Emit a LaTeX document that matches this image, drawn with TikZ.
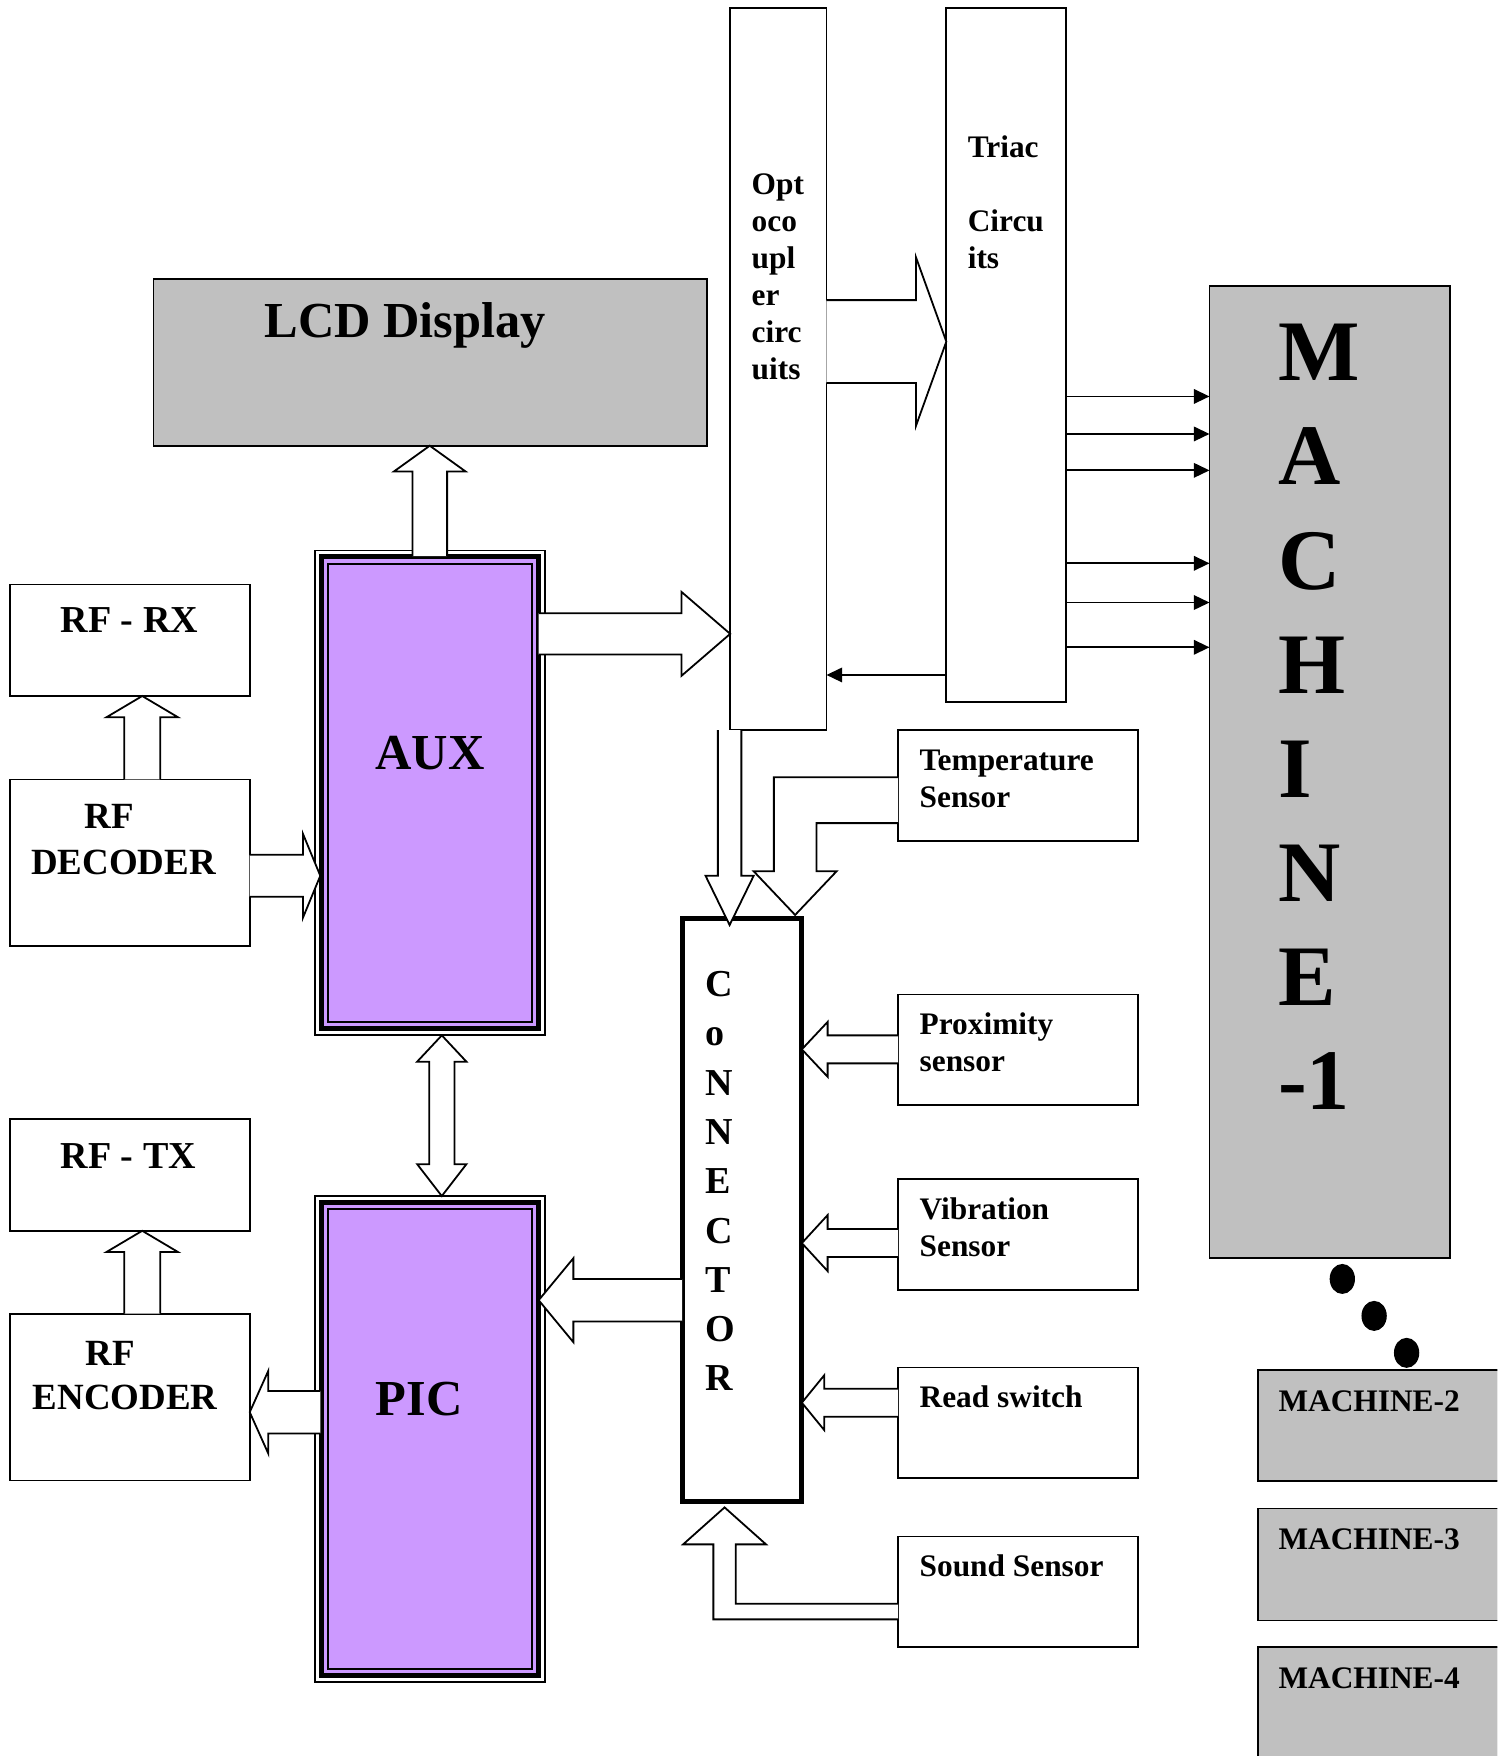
\documentclass[tikz,border=0pt]{standalone}
\usepackage{fontspec}
\setmainfont{Liberation Serif}
\usetikzlibrary{calc,arrows.meta}
\definecolor{boxgray}{HTML}{C0C0C0}
\definecolor{purp}{HTML}{CC99FF}
\tikzset{
  thinline/.style={line width=1.6pt},
  box/.style={draw, line width=1.6pt, inner sep=0pt, outer sep=0pt, anchor=north west, fill=white},
  thinarrow/.style={line width=1.6pt, -{Triangle[length=14pt,width=13pt]}},
  t28/.style={inner sep=0pt, anchor=base west, font=\bfseries\fontsize{28}{33}\selectfont},
  t33/.style={inner sep=0pt, anchor=base west, font=\bfseries\fontsize{33}{40}\selectfont},
  t34/.style={inner sep=0pt, anchor=base west, font=\bfseries\fontsize{34}{40}\selectfont},
  t45/.style={inner sep=0pt, anchor=base west, font=\bfseries\fontsize{45}{54}\selectfont},
  t77/.style={inner sep=0pt, anchor=base west, font=\bfseries\fontsize{77}{90}\selectfont},
}
% #1 start, #2 tip, #3 half shaft width, #4 half head width, #5 head length
\newcommand{\blockarrow}[5]{%
  \coordinate (ba-s) at (#1);
  \coordinate (ba-t) at (#2);
  \coordinate (ba-b) at ($(ba-t)!#5!(ba-s)$);
  \coordinate (ba-1) at ($(ba-s)!#3!90:(ba-t)$);
  \coordinate (ba-2) at ($(ba-b)!#3!90:(ba-t)$);
  \coordinate (ba-3) at ($(ba-b)!#4!90:(ba-t)$);
  \coordinate (ba-4) at ($(ba-b)!#4!-90:(ba-t)$);
  \coordinate (ba-5) at ($(ba-b)!#3!-90:(ba-t)$);
  \coordinate (ba-6) at ($(ba-s)!#3!-90:(ba-t)$);
  \fill[white] (ba-1) -- (ba-2) -- (ba-3) -- (ba-t) -- (ba-4) -- (ba-5) -- (ba-6) -- cycle;
  \draw[thinline] (ba-1) -- (ba-2) -- (ba-3) -- (ba-t) -- (ba-4) -- (ba-5) -- (ba-6);
}
\newcommand{\tripleframe}[1]{%
  \fill[purp] ($(#1.north west)+(3.5,3.5)$) rectangle ($(#1.south east)+(-3.5,-3.5)$);
  \draw[line width=4.5pt] ($(#1.north west)+(5.75,5.75)$) rectangle ($(#1.south east)+(-5.75,-5.75)$);
  \draw[thinline] ($(#1.north west)+(11.8,11.8)$) rectangle ($(#1.south east)+(-11.8,-11.8)$);
}
\begin{document}
\begin{tikzpicture}[x=1pt,y=-1pt]
\useasboundingbox (0,0) rectangle (1337,1568);
\clip (0,0) rectangle (1337,1568);
\fill[white] (0,0) rectangle (1337,1568);

% ---------- boxes ----------
\node[box, fill=boxgray, minimum width=494pt, minimum height=149pt] (lcd) at (137,249) {};
\node[box, minimum width=86pt, minimum height=645pt] (opto) at (652,7) {};
\node[box, minimum width=107pt, minimum height=620pt] (triac) at (845,7) {};
\node[box, fill=boxgray, minimum width=215pt, minimum height=868pt] (mach1) at (1080,255.5) {};
\node[box, fill=boxgray, minimum width=230pt, minimum height=99.5pt] (mach2) at (1123.5,1223) {};
\node[box, fill=boxgray, minimum width=230pt, minimum height=100pt] (mach3) at (1123.5,1347) {};
\node[box, fill=boxgray, minimum width=230pt, minimum height=120pt] (mach4) at (1123.5,1471) {};
\node[box, minimum width=214pt, minimum height=99.5pt] (rfrx) at (9,522) {};
\node[box, minimum width=214pt, minimum height=149pt] (rfdec) at (9,696) {};
\node[box, minimum width=214pt, minimum height=99.5pt] (rftx) at (9,999.5) {};
\node[box, minimum width=214pt, minimum height=149pt] (rfenc) at (9,1173) {};
\node[box, minimum width=205.5pt, minimum height=433pt] (aux) at (281,491.5) {};
\tripleframe{aux}
\node[box, minimum width=205.5pt, minimum height=434pt] (pic) at (281,1068) {};
\tripleframe{pic}
\node[box, line width=4.5pt, minimum width=107pt, minimum height=520pt] (conn) at (609,820.5) {};
\node[box, minimum width=214pt, minimum height=99pt] (temp) at (802,652) {};
\node[box, minimum width=214pt, minimum height=99pt] (prox) at (802,888) {};
\node[box, minimum width=214pt, minimum height=99pt] (vib) at (802,1053) {};
\node[box, minimum width=214pt, minimum height=99pt] (read) at (802,1221) {};
\node[box, minimum width=214pt, minimum height=99pt] (sound) at (802,1372) {};

% ---------- block arrows ----------
\blockarrow{$(aux.north)+(0,5)$}{aux.north |- lcd.south}{15.5pt}{32pt}{23pt}
\blockarrow{rfdec.east |- 0,782}{$(aux.west |- 0,782)+(5,0)$}{18.7pt}{37.5pt}{15.5pt}
\blockarrow{127,0 |- rfdec.north}{127,0 |- rfrx.south}{16pt}{32pt}{19pt}
\blockarrow{127,0 |- rfenc.north}{127,0 |- rftx.south}{16pt}{32pt}{19pt}
\blockarrow{$(pic.west |- 0,1261)+(5,0)$}{rfenc.east |- 0,1261}{19pt}{37pt}{16.6pt}
\blockarrow{$(aux.east |- 0,566)+(-5.5,0)$}{opto.west |- 0,566}{18.5pt}{37.5pt}{43.5pt}
\blockarrow{opto.east |- 0,305}{triac.west |- 0,305}{37pt}{75pt}{27pt}
\blockarrow{651.5,0 |- opto.south}{$(651.5,0 |- conn.north)+(0,5.5)$}{10.5pt}{21.5pt}{44pt}
\blockarrow{prox.west |- 0,937}{conn.east |- 0,937}{12.5pt}{24.5pt}{23pt}
\blockarrow{vib.west |- 0,1110}{conn.east |- 0,1110}{12.5pt}{25pt}{23pt}
\blockarrow{read.west |- 0,1252.5}{conn.east |- 0,1252.5}{12.5pt}{24.5pt}{20pt}
\blockarrow{conn.west |- 0,1161}{$(pic.east |- 0,1161)+(-5.5,0)$}{19pt}{37.5pt}{31pt}

% double arrow AUX <-> PIC
\filldraw[thinline, fill=white] (394.5,0 |- aux.south) -- (416.5,948) -- (405.8,948) -- (405.8,1039.5)
  -- (416.5,1039.5) -- (394.5,0 |- pic.north) -- (372.5,1039.5) -- (383.2,1039.5)
  -- (383.2,948) -- (372.5,948) -- cycle;

% temperature -> connector (bent)
\fill[white] (temp.west |- 0,694) -- (691,694) -- (691,778) -- (673,778) -- (710,817) -- (747,778)
  -- (729,778) -- (729,735) -- (temp.west |- 0,735) -- cycle;
\draw[thinline] (temp.west |- 0,694) -- (691,694) -- (691,778) -- (673,778) -- (710,817) -- (747,778)
  -- (729,778) -- (729,735) -- (temp.west |- 0,735);

% sound -> connector (bent)
\fill[white] (sound.west |- 0,1446) -- (637,1446) -- (637,1379) -- (610,1379) -- (647,1346) -- (684,1379)
  -- (657,1379) -- (657,1432) -- (sound.west |- 0,1432) -- cycle;
\draw[thinline] (sound.west |- 0,1446) -- (637,1446) -- (637,1379) -- (610,1379) -- (647,1346) -- (684,1379)
  -- (657,1379) -- (657,1432) -- (sound.west |- 0,1432);

% ---------- thin arrows ----------
\foreach \yy in {354,387.5,420,503,538,578}
  \draw[thinarrow] (triac.east |- 0,\yy) -- (mach1.west |- 0,\yy);
\draw[thinarrow] (triac.west |- 0,602.7) -- (opto.east |- 0,602.7);

% ---------- dots ----------
\fill (1198.6,1142) ellipse (11.3 and 13.4);
\fill (1227,1175) ellipse (11.3 and 13.4);
\fill (1256,1208) ellipse (11.3 and 13.4);

% ---------- texts ----------
\node[t45] (lcdt) at (236,301) {LCD Display};
\node[t45] (auxt) at (335,687) {AUX};
\node[t45] (pict) at (335.5,1263.5) {PIC};

\node[t28] (op1) at (671,174) {Opt};
\node[t28] (op2) at (671,207) {oco};
\node[t28] (op3) at (671,240) {upl};
\node[t28] (op4) at (671,273) {er};
\node[t28] (op5) at (671,306) {circ};
\node[t28] (op6) at (671,339) {uits};

\node[t28] (tr1) at (864,141) {Triac};
\node[t28] (tr2) at (864,207) {Circu};
\node[t28] (tr3) at (864,240) {its};

\foreach \ch [count=\i from 0] in {M,A,C,H,I,N,E,-1}
  \node[t77] (mt\i) at (1141,{340+93*\i}) {\ch};

\foreach \ch [count=\i from 0] in {C,o,N,N,E,C,T,O,R}
  \node[t34] (ct\i) at (630,{890+44*\i}) {\ch};

\node[t34] (rxt) at (54,565) {RF - RX};
\node[t33] (dec1) at (75.5,740) {RF};
\node[t33] (dec2) at (27.5,781) {DECODER};
\node[t34] (txt) at (54,1043) {RF - TX};
\node[t33] (enc1) at (76,1219) {RF};
\node[t33] (enc2) at (29,1259) {ENCODER};

\node[t28] (tem1) at (821,688) {Temperature};
\node[t28] (tem2) at (821,721) {Sensor};
\node[t28] (pr1) at (821,924) {Proximity};
\node[t28] (pr2) at (821,957) {sensor};
\node[t28] (vb1) at (821,1089) {Vibration};
\node[t28] (vb2) at (821,1122) {Sensor};
\node[t28] (rdt) at (821,1257) {Read switch};
\node[t28] (sst) at (821,1408) {Sound Sensor};

\node[t28] (m2t) at (1141.5,1260) {MACHINE-2};
\node[t28] (m3t) at (1141.5,1384) {MACHINE-3};
\node[t28] (m4t) at (1141.5,1508) {MACHINE-4};
\end{tikzpicture}
\end{document}
